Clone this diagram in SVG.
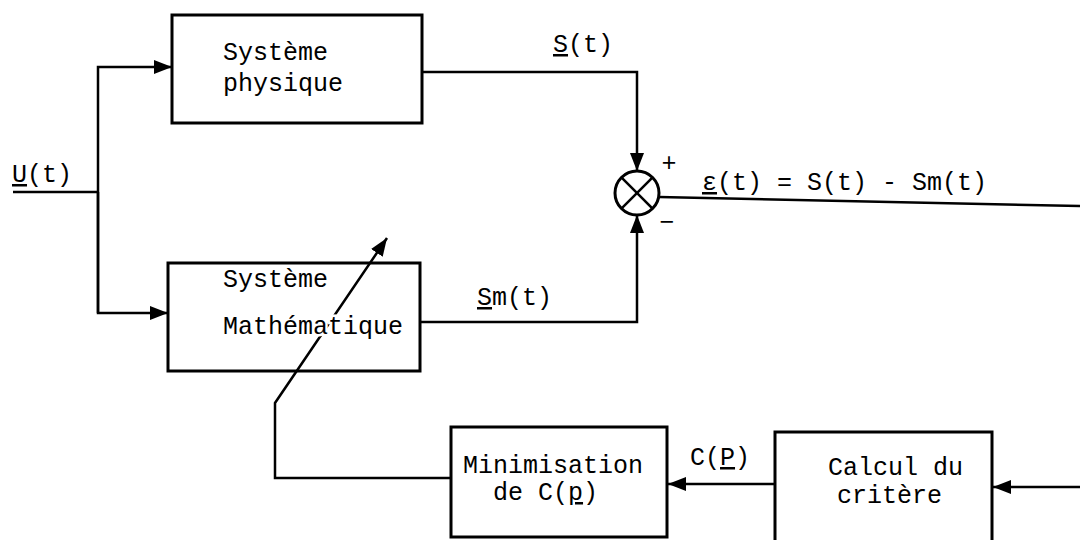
<svg xmlns="http://www.w3.org/2000/svg" width="1080" height="540" viewBox="0 0 1080 540">
<style>
.box{fill:none;stroke:#000;stroke-width:3}
.ln{fill:none;stroke:#000;stroke-width:2.5}
.t{font-family:"Liberation Mono","DejaVu Sans Mono",monospace;font-size:25px;fill:#000}
.halo{stroke:#fff;stroke-width:5;paint-order:stroke}
.u{text-decoration:underline}
</style>
<defs>
<marker id="ah" markerUnits="userSpaceOnUse" markerWidth="20" markerHeight="14" refX="18" refY="7" orient="auto">
<path d="M0,0 L18,7 L0,14 Z" fill="#000"/>
</marker>
</defs>
<rect width="1080" height="540" fill="#fff"/>
<g id="connectors">
<polyline class="ln" points="13,192 98,192"/>
<polyline class="ln" points="98,313 98,67 172,67" marker-end="url(#ah)"/>
<polyline class="ln" points="98,192 98,313 168,313" marker-end="url(#ah)"/>
<polyline class="ln" points="422,72 637,72 637,171" marker-end="url(#ah)"/>
<polyline class="ln" points="420,322 637,322 637,215" marker-end="url(#ah)"/>
<line class="ln" x1="659" y1="197" x2="1080" y2="206"/>
<polyline class="ln" points="1080,487 993,487" marker-end="url(#ah)"/>
<polyline class="ln" points="775,484 668,484" marker-end="url(#ah)"/>
<polyline class="ln" points="451,478 275,478 275,403 387,238" marker-end="url(#ah)"/>
</g>
<g id="sysphys">
<rect class="box" x="172" y="15" width="250" height="108"/>
<text class="t" x="223" y="60">Système</text>
<text class="t" x="223" y="91">physique</text>
</g>
<g id="sysmath">
<rect class="box" x="168" y="263" width="252" height="108"/>
<text class="t" x="223" y="287">Système</text>
<text class="t halo" x="223" y="334">Mathématique</text>
</g>
<g id="comparator">
<circle cx="637" cy="193" r="22" fill="#fff" stroke="#000" stroke-width="3"/>
<line class="ln" x1="621.4" y1="177.4" x2="652.6" y2="208.6"/>
<line class="ln" x1="652.6" y1="177.4" x2="621.4" y2="208.6"/>
<text class="t" x="669" y="171" text-anchor="middle">+</text>
<text class="t" x="667" y="230" text-anchor="middle">−</text>
</g>
<g id="minimisation">
<rect class="box" x="451" y="427" width="216" height="110"/>
<text class="t" x="463" y="473">Minimisation</text>
<text class="t" x="493" y="500">de C(<tspan class="u">p</tspan>)</text>
</g>
<g id="calcul">
<rect class="box" x="775" y="432" width="217" height="115"/>
<text class="t" x="828" y="475">Calcul du</text>
<text class="t" x="837" y="503">critère</text>
</g>
<g id="labels">
<text class="t" x="12" y="182"><tspan class="u">U</tspan>(t)</text>
<text class="t" x="553" y="52"><tspan class="u">S</tspan>(t)</text>
<text class="t" x="477" y="305"><tspan class="u">S</tspan>m(t)</text>
<text class="t" x="702" y="190"><tspan class="u">ε</tspan>(t) = S(t) - Sm(t)</text>
<text class="t" x="690" y="465">C(<tspan class="u">P</tspan>)</text>
</g>
</svg>
